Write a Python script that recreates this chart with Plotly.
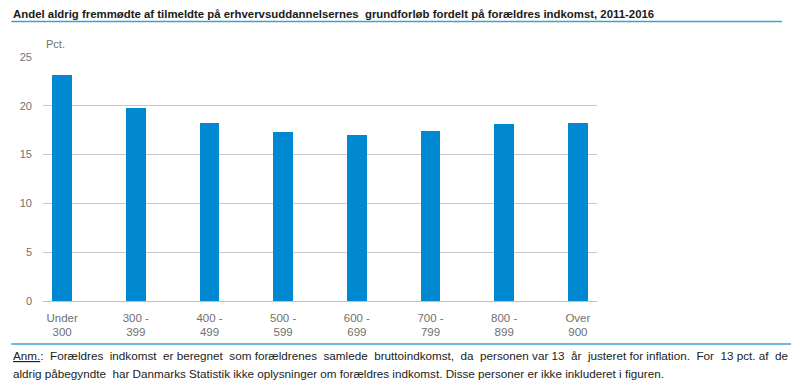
import plotly.graph_objects as go

categories = ["Under<br>300", "300 -<br>399", "400 -<br>499", "500 -<br>599",
              "600 -<br>699", "700 -<br>799", "800 -<br>899", "Over<br>900"]
values = [23.2, 19.8, 18.2, 17.3, 17.0, 17.4, 18.1, 18.2]
y_ticks = [0, 5, 10, 15, 20, 25]

title = ("Andel aldrig fremmødte af tilmeldte på erhvervsuddannelsernes  "
         "grundforløb fordelt på forældres indkomst, 2011-2016")
note1 = ("<u>Anm.</u>:  Forældres  indkomst  er beregnet  som forældrenes  samlede  "
         "bruttoindkomst,  da  personen var 13  år  justeret for inflation.  For  13 pct. af  de")
note2 = ("aldrig påbegyndte  har Danmarks Statistik ikke oplysninger om forældres indkomst. "
         "Disse personer er ikke inkluderet i figuren.")

OFF = 8  # page body margin
W, H = 800 - OFF, 390 - OFF
L, R, T, B = 40 - OFF, 203, 57 - OFF, 89
pw, ph = W - L - R, H - T - B


def px(x):
    return (x - OFF - L) / pw


def py(y):
    return (H - B - (y - OFF)) / ph


fig = go.Figure()
fig.add_trace(go.Bar(x=list(range(len(categories))), y=values,
                     marker=dict(color="#0089D1", line=dict(width=0)),
                     width=0.27))

fig.update_layout(
    width=W, height=H, margin=dict(l=L, r=R, t=T, b=B, pad=0),
    plot_bgcolor="white", paper_bgcolor="white", showlegend=False,
    font=dict(family="Liberation Sans, Arial", color="#666666", size=11),
    xaxis=dict(range=[-0.26, 7.26], tickmode="array",
               tickvals=list(range(len(categories))), ticktext=categories,
               showgrid=False, zeroline=False, showline=False, ticks="",
               ticklabelstandoff=8,
               tickfont=dict(size=11.5, color="#707070")),
    yaxis=dict(range=[0, 25], tickvals=y_ticks, showgrid=True,
               gridcolor="#c8c8c8", gridwidth=1, zeroline=True,
               zerolinecolor="#c0c0c0", zerolinewidth=1, showline=False,
               ticks="", ticklabelstandoff=10,
               tickfont=dict(size=11, color="#707070")),
    bargap=0,
)

fig.add_annotation(text="<b>" + title + "</b>", xref="paper", yref="paper",
                   x=px(8), y=py(14), xanchor="left", yanchor="middle",
                   showarrow=False,
                   font=dict(family="Liberation Sans, Arial", size=11.4, color="#1a1a1a"))
fig.add_annotation(text="Pct.", xref="paper", yref="paper",
                   x=px(41), y=py(44), xanchor="left", yanchor="middle",
                   showarrow=False, font=dict(size=11, color="#707070"))
fig.add_annotation(text=note1, xref="paper", yref="paper",
                   x=px(8), y=py(355), xanchor="left", yanchor="middle",
                   showarrow=False, font=dict(size=11.7, color="#222222"))
fig.add_annotation(text=note2, xref="paper", yref="paper",
                   x=px(8), y=py(373), xanchor="left", yanchor="middle",
                   showarrow=False, font=dict(size=11.7, color="#222222"))

for yy, xend in ((21.5, 783), (344, 792)):
    fig.add_shape(type="line", xref="paper", yref="paper",
                  x0=px(8), x1=px(xend), y0=py(yy), y1=py(yy),
                  line=dict(color="#3da0d0", width=1.5))

fig.write_html("out.html")
